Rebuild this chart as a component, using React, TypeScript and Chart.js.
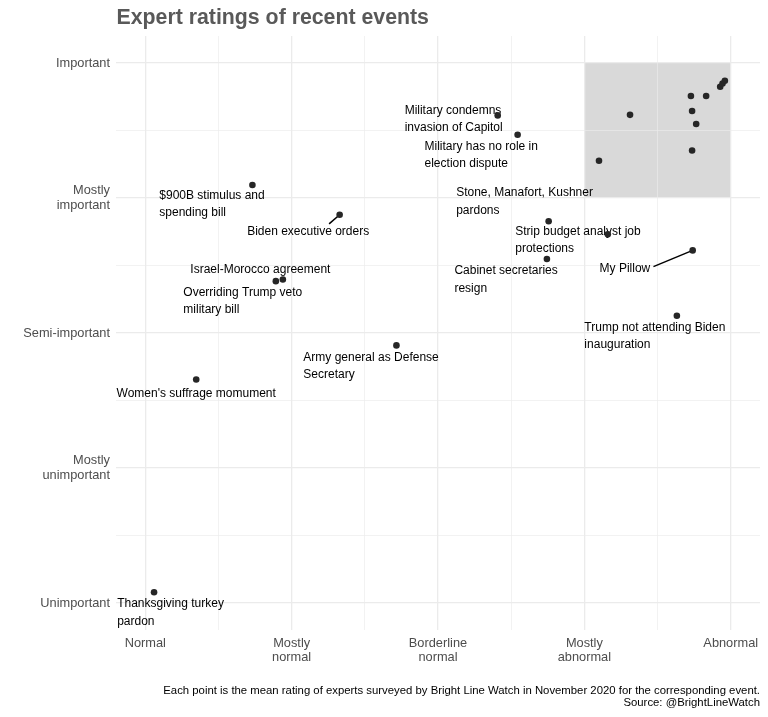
import React, { useEffect, useRef } from "react";
import { Chart, registerables } from "chart.js";

Chart.register(...registerables);

// ---- Data ----
const events: string[] = [
  "Thanksgiving turkey\npardon",
  "Women's suffrage momument",
  "Army general as Defense\nSecretary",
  "Overriding Trump veto\nmilitary bill",
  "Israel-Morocco agreement",
  "$900B stimulus and\nspending bill",
  "Biden executive orders",
  "Military condemns\ninvasion of Capitol",
  "Military has no role in\nelection dispute",
  "Stone, Manafort, Kushner\npardons",
  "Strip budget analyst job\nprotections",
  "Cabinet secretaries\nresign",
  "My Pillow",
  "Trump not attending Biden\ninauguration",
  "", "", "", "", "", "", "", "", "", "",
];
// 0 = Normal ... 100 = Abnormal
const normality: number[] = [
  1.5, 8.7, 42.9, 22.3, 23.5, 18.3, 33.2, 60.2, 63.6, 68.9, 79.0, 68.6, 93.5, 90.8,
  77.5, 82.8, 93.4, 93.2, 93.4, 94.1, 95.8, 98.2, 98.6, 99.0,
];
// 0 = Unimportant ... 100 = Important
const importance: number[] = [
  2.0, 41.4, 47.7, 59.6, 59.9, 77.4, 71.9, 90.3, 86.7, 70.7, 68.3, 63.7, 65.3, 53.2,
  81.9, 90.4, 83.8, 93.9, 91.1, 88.7, 93.9, 95.6, 96.2, 96.7,
];
// label anchors (left edge / first line), data units
const labelX: (number | null)[] = [
  -4.8, -4.9, 27.0, 6.5, 7.7, 2.4, 17.4, 44.3, 47.7, 53.1, 63.2, 52.8, 77.6, 75.0,
  null, null, null, null, null, null, null, null, null, null,
];
const labelY: (number | null)[] = [
  -0.2, 38.8, 45.5, 57.5, 61.8, 75.5, 68.8, 91.2, 84.5, 75.9, 68.8, 61.5, 62.0, 51.0,
  null, null, null, null, null, null, null, null, null, null,
];
// connector segment starts (data units), null = none
const segX: (number | null)[] = [null, null, null, null, null, null, 31.4, null, null, null, null, null, 86.8, null];
const segY: (number | null)[] = [null, null, null, null, null, null, 70.2, null, null, null, null, null, 62.3, null];

const xTickLabels: string[][] = [["Normal"], ["Mostly", "normal"], ["Borderline", "normal"], ["Mostly", "abnormal"], ["Abnormal"]];
const yTickLabels: string[][] = [["Unimportant"], ["Mostly", "unimportant"], ["Semi-important"], ["Mostly", "important"], ["Important"]];
const gridValues: number[] = [0, 12.5, 25, 37.5, 50, 62.5, 75, 87.5, 100];
const highlightX: number[] = [75, 100];
const highlightY: number[] = [75, 100];

const title = "Expert ratings of recent events";
const captionLines = [
  "Each point is the mean rating of experts surveyed by Bright Line Watch in November 2020 for the corresponding event.",
  "Source: @BrightLineWatch",
];

const FONT = "'Liberation Sans', Arial, Helvetica, sans-serif";

const tickLabel = (v: number, labels: string[][]) => {
  if (v % 25 !== 0) return "";
  const l = labels[v / 25];
  return l.length === 1 ? l[0] : l;
};

const decorPlugin = {
  id: "decor",
  beforeDraw(chart: any) {
    const { ctx, scales } = chart;
    const x = scales.x, y = scales.y;
    const x0 = x.getPixelForValue(highlightX[0]);
    const x1 = x.getPixelForValue(highlightX[1]);
    const y0 = y.getPixelForValue(highlightY[1]);
    const y1 = y.getPixelForValue(highlightY[0]);
    ctx.save();
    ctx.fillStyle = "#ffffff";
    ctx.fillRect(0, 0, chart.width, chart.height);
    ctx.fillStyle = "#d9d9d9";
    ctx.fillRect(x0, y0, x1 - x0, y1 - y0);
    ctx.restore();
  },
  beforeDatasetsDraw(chart: any) {
    const { ctx, scales } = chart;
    const x = scales.x, y = scales.y;
    ctx.save();
    ctx.font = `12px ${FONT}`;
    ctx.fillStyle = "#000000";
    ctx.textAlign = "left";
    ctx.textBaseline = "middle";
    events.forEach((name, i) => {
      if (!name || labelX[i] == null || labelY[i] == null) return;
      const px = x.getPixelForValue(labelX[i] as number);
      const py = y.getPixelForValue(labelY[i] as number);
      name.split("\n").forEach((line, k) => ctx.fillText(line, px, py + k * 17.4));
      if (segX[i] != null && segY[i] != null) {
        ctx.strokeStyle = "#000000";
        ctx.lineWidth = 1.5;
        ctx.beginPath();
        ctx.moveTo(x.getPixelForValue(segX[i] as number), y.getPixelForValue(segY[i] as number));
        ctx.lineTo(x.getPixelForValue(normality[i]), y.getPixelForValue(importance[i]));
        ctx.stroke();
      }
    });
    ctx.restore();
  },
  afterDraw(chart: any) {
    const { ctx, chartArea } = chart;
    ctx.save();
    ctx.fillStyle = "#595959";
    ctx.font = `bold 21.3px ${FONT}`;
    ctx.textAlign = "left";
    ctx.textBaseline = "alphabetic";
    ctx.fillText(title, chartArea.left + 0.5, 23.5);
    ctx.fillStyle = "#000000";
    ctx.font = `11.35px ${FONT}`;
    ctx.textAlign = "right";
    ctx.textBaseline = "middle";
    captionLines.forEach((l, k) => ctx.fillText(l, chartArea.right, 690.5 + k * 12.5));
    ctx.restore();
  },
};

export default function App() {
  const ref = useRef<HTMLCanvasElement | null>(null);
  useEffect(() => {
    if (!ref.current) return;
    const gridCommon = {
      color: "#ebebeb",
      lineWidth: (c: any) => (c.tick && c.tick.value % 25 === 0 ? 1.3 : 0.65),
      drawTicks: false,
    };
    const chart = new Chart(ref.current, {
      type: "scatter",
      data: {
        datasets: [
          {
            data: normality.map((v, i) => ({ x: v, y: importance[i] })),
            backgroundColor: "#262626",
            borderWidth: 0,
            pointRadius: 3.3,
            pointHoverRadius: 3.3,
          },
        ],
      },
      options: {
        animation: false,
        responsive: false,
        maintainAspectRatio: false,
        events: [],
        layout: { padding: { top: 36, right: 8, left: 0, bottom: 0 } },
        plugins: { legend: { display: false }, tooltip: { enabled: false }, title: { display: false } },
        scales: {
          x: {
            type: "linear",
            min: -5,
            max: 105,
            grid: gridCommon as any,
            border: { display: false },
            afterBuildTicks: (s: any) => {
              s.ticks = gridValues.map((v) => ({ value: v }));
            },
            afterFit: (s: any) => {
              s.height = 87;
            },
            ticks: {
              autoSkip: false,
              maxRotation: 0,
              padding: 6,
              color: "#4d4d4d",
              font: { family: FONT, size: 12.8, lineHeight: 1.1 },
              callback: (v: any) => tickLabel(Number(v), xTickLabels),
            },
          },
          y: {
            type: "linear",
            min: -5,
            max: 105,
            grid: gridCommon as any,
            border: { display: false },
            afterBuildTicks: (s: any) => {
              s.ticks = gridValues.map((v) => ({ value: v }));
            },
            afterFit: (s: any) => {
              s.width = 116;
            },
            ticks: {
              autoSkip: false,
              padding: 6,
              color: "#4d4d4d",
              font: { family: FONT, size: 12.8, lineHeight: 1.1 },
              callback: (v: any) => tickLabel(Number(v), yTickLabels),
            },
          },
        },
      },
      plugins: [decorPlugin],
    });
    return () => chart.destroy();
  }, []);
  return (
    <div style={{ position: "fixed", left: 0, top: 0, width: 768, height: 717, background: "#fff" }}>
      <canvas ref={ref} width={768} height={717} style={{ width: 768, height: 717, display: "block" }} />
    </div>
  );
}
